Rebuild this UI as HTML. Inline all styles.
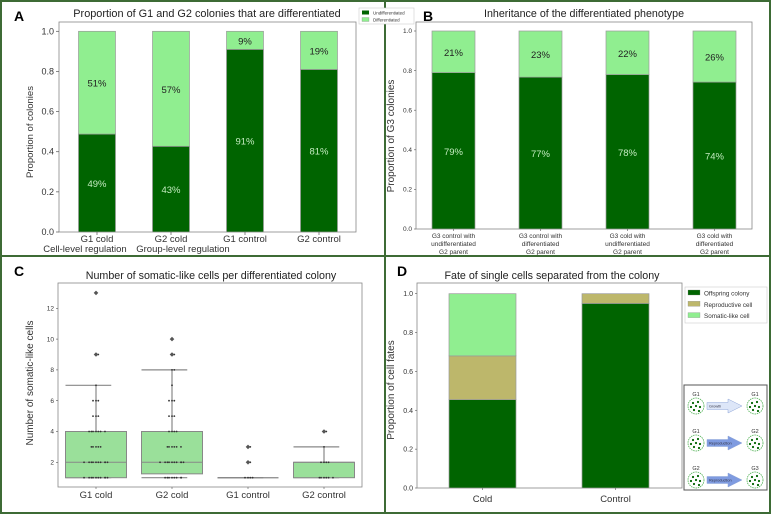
<!DOCTYPE html>
<html><head><meta charset="utf-8"><style>
html,body{margin:0;padding:0;background:#fff}
svg{display:block;font-family:"Liberation Sans",Arial,sans-serif}
</style></head><body>
<svg id="fig" width="771" height="514" viewBox="0 0 771 514" xmlns="http://www.w3.org/2000/svg">
<rect x="0" y="0" width="771" height="514" fill="#fff"/>
<g id="gA"></g>
<g id="gB"></g>
<g id="gC"></g>
<g id="gD"></g>
<g id="frame">
<rect x="1" y="1" width="769" height="512" fill="none" stroke="#3d6b35" stroke-width="2"/>
<line x1="385" y1="0" x2="385" y2="514" stroke="#3d6b35" stroke-width="2"/>
<line x1="0" y1="256" x2="771" y2="256" stroke="#3d6b35" stroke-width="2"/>
</g>
<g id="legA">
<rect x="359" y="8" width="55" height="16" fill="#fff" stroke="#ccc" stroke-width="0.6"/>
<rect x="362" y="10.5" width="7" height="4" fill="#006400"/>
<text x="373" y="14.5" font-size="4.5" fill="#333">Undifferentiated</text>
<rect x="362" y="17.5" width="7" height="4" fill="#90ee90" stroke="#888" stroke-width="0.3"/>
<text x="373" y="21.5" font-size="4.5" fill="#333">Differentiated</text>
</g>
</svg>
<script>
const NS="http://www.w3.org/2000/svg";
function mk(parent,tag,attrs,text){const e=document.createElementNS(NS,tag);for(const k in attrs)e.setAttribute(k,attrs[k]);if(text!==undefined)e.textContent=text;parent.appendChild(e);return e;}

// ---- Panel A data ----
const catsA=["G1 cold","G2 cold","G1 control","G2 control"];
const subA=["Cell-level regulation","Group-level regulation","",""];
const undiffA=[0.488,0.427,0.91,0.81];
const ticksA=[0,0.2,0.4,0.6,0.8,1.0];
// ---- Panel B data ----
const catsB=[["G3 control with","undifferentiated","G2 parent"],["G3 control with","differentiated","G2 parent"],["G3 cold with","undifferentiated","G2 parent"],["G3 cold with","differentiated","G2 parent"]];
const undiffB=[0.79,0.767,0.78,0.742];
const ticksB=[0,0.2,0.4,0.6,0.8,1.0];
// ---- Panel C data ----
const catsC=["G1 cold","G2 cold","G1 control","G2 control"];
const q1C=[1,1.25,1,1];
const medC=[2,2,1,2];
const q3C=[4,4,1,2];
const whiskLoC=[1,1,1,1];
const whiskHiC=[7,8,1,3];
const fliersC=[[9,13],[9,10],[2,3],[4]];
const pointsC=[
 [1,1,1,1,1,1,1,1,1,1,2,2,2,2,2,2,2,2,2,2,3,3,3,3,3,4,4,4,4,4,4,4,5,5,5,6,6,6,7,9,9,13],
 [1,1,1,1,1,1,1,1,2,2,2,2,2,2,2,2,2,2,3,3,3,3,3,3,4,4,4,4,5,5,5,6,6,6,7,8,8,9,9,10],
 [1,1,1,1,2,2,3,3],
 [1,1,1,1,1,1,2,2,2,2,3,4,4]
];
const ticksC=[2,4,6,8,10,12];
// ---- Panel D data ----
const catsD=["Cold","Control"];
const offspringD=[0.455,0.95];
const reproD=[0.225,0.05];
const somaticD=[0.32,0];
const ticksD=[0,0.2,0.4,0.6,0.8,1.0];

const LIGHT="#90ee90",DARK="#006400",EDGE="#9a9a9a";

// ===== Panel A =====
(function(){
 const g=document.getElementById("gA");
 const L=59,R=356,T=22,B=232,Y1=31.3;
 const y=v=>B-v*(B-Y1);
 const xc=i=>97+74*i, w=37;
 mk(g,"text",{x:14,y:21,"font-size":14,"font-weight":"bold",},"A");
 mk(g,"text",{x:207,y:17,"font-size":10.9,"text-anchor":"middle",fill:"#222",},"Proportion of G1 and G2 colonies that are differentiated");
 mk(g,"rect",{x:L,y:T,width:R-L,height:B-T,fill:"none",stroke:"#888","stroke-width":0.8,});
 ticksA.forEach(t=>{
  const tk=mk(g,"line",{x1:L-3,x2:L,y1:y(t),y2:y(t),stroke:"#555","stroke-width":0.7});
  
  
  const lb=mk(g,"text",{x:L-5,y:y(t)+3,"font-size":9,"text-anchor":"end",fill:"#333"},t.toFixed(1));
  
  
 });
 const yl=mk(g,"text",{x:0,y:0,"font-size":9.5,"text-anchor":"middle",fill:"#333",transform:"translate(33,132) rotate(-90)"},"Proportion of colonies");
 
 
 catsA.forEach((c,i)=>{
  const u=undiffA[i],d=1-u,x=xc(i)-w/2;
  const b1=mk(g,"rect",{x:x,y:y(u),width:w,height:y(0)-y(u),fill:DARK,stroke:EDGE,"stroke-width":0.7});
  
  
  const b2=mk(g,"rect",{x:x,y:y(1),width:w,height:y(u)-y(1),fill:LIGHT,stroke:EDGE,"stroke-width":0.7});
  
  
  const t1=mk(g,"text",{x:xc(i),y:y(u/2)+4,"font-size":9.5,"text-anchor":"middle",fill:"#c4ecc0"},Math.round(u*100)+"%");
  
  
  const t2=mk(g,"text",{x:xc(i),y:y(u+d/2)+4,"font-size":9.5,"text-anchor":"middle",fill:"#222"},Math.round(d*100)+"%");
  
  
  mk(g,"line",{x1:xc(i),x2:xc(i),y1:B,y2:B+3,stroke:"#555","stroke-width":0.7});
  const xl=mk(g,"text",{x:xc(i),y:242,"font-size":9.5,"text-anchor":"middle",fill:"#333"},c);
  
  
  if(subA[i]){
   const xs=mk(g,"text",{x:xc(i)+(i==0?-12:12),y:252,"font-size":9.5,"text-anchor":"middle",fill:"#333"},subA[i]);
   
   
  }
 });
})();

// ===== Panel B =====
(function(){
 const g=document.getElementById("gB");
 const L=416,R=752,T=22,B=229,Y1=31;
 const y=v=>B-v*(B-Y1);
 const xc=i=>453.5+87*i, w=43;
 mk(g,"text",{x:423,y:21,"font-size":14,"font-weight":"bold",},"B");
 mk(g,"text",{x:584,y:17,"font-size":10.7,"text-anchor":"middle",fill:"#222",},"Inheritance of the differentiated phenotype");
 mk(g,"rect",{x:L,y:T,width:R-L,height:B-T,fill:"none",stroke:"#888","stroke-width":0.8,});
 ticksB.forEach(t=>{
  mk(g,"line",{x1:L-2,x2:L,y1:y(t),y2:y(t),stroke:"#555","stroke-width":0.6});
  const lb=mk(g,"text",{x:L-4,y:y(t)+2.2,"font-size":6.5,"text-anchor":"end",fill:"#333"},t.toFixed(1));
  
  
 });
 const yl=mk(g,"text",{x:0,y:0,"font-size":10,"text-anchor":"middle",fill:"#333",transform:"translate(394,136) rotate(-90)"},"Proportion of G3 colonies");
 
 
 catsB.forEach((c,i)=>{
  const u=undiffB[i],d=1-u,x=xc(i)-w/2;
  const b1=mk(g,"rect",{x:x,y:y(u),width:w,height:y(0)-y(u),fill:DARK,stroke:EDGE,"stroke-width":0.7});
  
  
  const b2=mk(g,"rect",{x:x,y:y(1),width:w,height:y(u)-y(1),fill:LIGHT,stroke:EDGE,"stroke-width":0.7});
  
  
  const t1=mk(g,"text",{x:xc(i),y:y(u/2)+4,"font-size":9.5,"text-anchor":"middle",fill:"#c4ecc0"},Math.round(u*100)+"%");
  
  
  const t2=mk(g,"text",{x:xc(i),y:y(u+d/2)+4,"font-size":9.5,"text-anchor":"middle",fill:"#222"},Math.round(d*100)+"%");
  
  
  mk(g,"line",{x1:xc(i),x2:xc(i),y1:B,y2:B+2,stroke:"#555","stroke-width":0.6});
  c.forEach((ln,k)=>{
   const xl=mk(g,"text",{x:xc(i),y:238+k*8,"font-size":6.5,"text-anchor":"middle",fill:"#333"},ln);
   
   
  });
 });
})();

// ===== Panel C =====
(function(){
 const g=document.getElementById("gC");
 const L=58,R=362,T=283,B=487;
 const y=v=>462.3-(v-2)*15.4;
 const xc=i=>96+76*i, w=61;
 mk(g,"text",{x:14,y:276,"font-size":14,"font-weight":"bold",},"C");
 mk(g,"text",{x:211,y:279,"font-size":10.7,"text-anchor":"middle",fill:"#222",},"Number of somatic-like cells per differentiated colony");
 mk(g,"rect",{x:L,y:T,width:R-L,height:B-T,fill:"none",stroke:"#888","stroke-width":0.8,});
 ticksC.forEach(t=>{
  mk(g,"line",{x1:L-2,x2:L,y1:y(t),y2:y(t),stroke:"#555","stroke-width":0.6});
  const lb=mk(g,"text",{x:L-4,y:y(t)+2.2,"font-size":6.5,"text-anchor":"end",fill:"#333"},String(t));
  
  
 });
 const yl=mk(g,"text",{x:0,y:0,"font-size":10,"text-anchor":"middle",fill:"#333",transform:"translate(33,383) rotate(-90)"},"Number of somatic-like cells");
 
 
 catsC.forEach((c,i)=>{
  const cx=xc(i),x0=cx-w/2;
  const wl=mk(g,"line",{x1:cx,x2:cx,y1:y(q3C[i]),y2:y(whiskHiC[i]),stroke:"#888","stroke-width":1.2});
  
  
  const cap=mk(g,"line",{x1:x0,x2:cx+w*0.25,y1:y(whiskHiC[i]),y2:y(whiskHiC[i]),stroke:"#888","stroke-width":1.2});
  
  
  const cap2=mk(g,"line",{x1:x0,x2:cx+w*0.25,y1:y(whiskLoC[i]),y2:y(whiskLoC[i]),stroke:"#888","stroke-width":1.2});
  
  
  if(q3C[i]>q1C[i]){
   const bx=mk(g,"rect",{x:x0,y:y(q3C[i]),width:w,height:y(q1C[i])-y(q3C[i]),fill:"#9ae09a",stroke:"#888","stroke-width":1});
   
   
  } else {
   const bl=mk(g,"line",{x1:x0,x2:x0+w,y1:y(q1C[i]),y2:y(q1C[i]),stroke:"#888","stroke-width":1});
   
   
  }
  const md=mk(g,"line",{x1:x0,x2:x0+w,y1:y(medC[i]),y2:y(medC[i]),stroke:"#888","stroke-width":1});
  
  
  const cnt={};
  pointsC[i].forEach(v=>{
   cnt[v]=(cnt[v]||0)+1;const k=cnt[v]-1;
   const off=((k%2)?1:-1)*Math.ceil(k/2)*2.3*(k%3==2?1.3:1);
   const p=mk(g,"circle",{cx:cx+Math.max(-12,Math.min(12,off)),cy:y(v),r:0.9,fill:"#333"});
   
   
  });
  fliersC[i].forEach(v=>{
   const f=mk(g,"path",{d:`M${cx} ${y(v)-2.3}L${cx+2.3} ${y(v)}L${cx} ${y(v)+2.3}L${cx-2.3} ${y(v)}Z`,fill:"#555"});
   
   
  });
  mk(g,"line",{x1:cx,x2:cx,y1:B,y2:B+2,stroke:"#555","stroke-width":0.6});
  const xl=mk(g,"text",{x:cx,y:498,"font-size":9.5,"text-anchor":"middle",fill:"#333"},c);
  
  
 });
})();

// ===== Panel D =====
(function(){
 const g=document.getElementById("gD");
 const L=417,R=682,T=283,B=488,Y1=293.7;
 const y=v=>B-v*(B-Y1);
 const xc=i=>482.5+133*i, w=67;
 mk(g,"text",{x:397,y:276,"font-size":14,"font-weight":"bold",},"D");
 mk(g,"text",{x:552,y:279,"font-size":10.7,"text-anchor":"middle",fill:"#222",},"Fate of single cells separated from the colony");
 mk(g,"rect",{x:L,y:T,width:R-L,height:B-T,fill:"none",stroke:"#888","stroke-width":0.8,});
 ticksD.forEach(t=>{
  mk(g,"line",{x1:L-2,x2:L,y1:y(t),y2:y(t),stroke:"#555","stroke-width":0.6});
  const lb=mk(g,"text",{x:L-4,y:y(t)+2.5,"font-size":7,"text-anchor":"end",fill:"#333"},t.toFixed(1));
  
  
 });
 const yl=mk(g,"text",{x:0,y:0,"font-size":10,"text-anchor":"middle",fill:"#333",transform:"translate(394,390) rotate(-90)"},"Proportion of cell fates");
 
 
 catsD.forEach((c,i)=>{
  const x0=xc(i)-w/2;
  const o=offspringD[i],r=reproD[i],s=somaticD[i];
  const b1=mk(g,"rect",{x:x0,y:y(o),width:w,height:y(0)-y(o),fill:DARK,stroke:EDGE,"stroke-width":0.7});
  
  
  const b2=mk(g,"rect",{x:x0,y:y(o+r),width:w,height:y(o)-y(o+r),fill:"#bdb76b",stroke:EDGE,"stroke-width":0.7});
  
  
  if(s>0){
   const b3=mk(g,"rect",{x:x0,y:y(o+r+s),width:w,height:y(o+r)-y(o+r+s),fill:LIGHT,stroke:EDGE,"stroke-width":0.7});
   
   
  }
  mk(g,"line",{x1:xc(i),x2:xc(i),y1:B,y2:B+2,stroke:"#555","stroke-width":0.6});
  const xl=mk(g,"text",{x:xc(i),y:502,"font-size":9.5,"text-anchor":"middle",fill:"#333"},c);
  
  
 });
 const lg=mk(g,"g",{});
 mk(lg,"rect",{x:685,y:287,width:82,height:36,fill:"#fff",stroke:"#ccc","stroke-width":0.6});
 const leg=[["Offspring colony",DARK],["Reproductive cell","#bdb76b"],["Somatic-like cell",LIGHT]];
 leg.forEach((e,k)=>{
  mk(lg,"rect",{x:688,y:290+k*11.3,width:12,height:5,fill:e[1],stroke:"#888","stroke-width":0.3});
  const t=mk(lg,"text",{x:704,y:295.5+k*11.3,"font-size":6.3,fill:"#333"},e[0]);
  
  
 });
 const dg=mk(g,"g",{});
 mk(dg,"rect",{x:684,y:385,width:83,height:105,fill:"#fff",stroke:"#555","stroke-width":1});
 const rows=[["G1","G1","Growth","#dde6f8"],["G1","G2","Reproduction","#7f9be0"],["G2","G3","Reproduction","#7f9be0"]];
 const dots=[[-3,-3],[2,-4],[-5,1],[0,0],[4,1],[-2,4],[3,5]];
 rows.forEach((r,k)=>{
  const cy=406+k*37;
  [[696,r[0]],[755,r[1]]].forEach(([cx,lab])=>{
   mk(dg,"circle",{cx:cx,cy:cy,r:8,fill:"#fff",stroke:"#4caf50","stroke-width":0.8,"stroke-dasharray":"1.5 0.8"});
   dots.forEach(d=>mk(dg,"circle",{cx:cx+d[0],cy:cy+d[1],r:1.1,fill:"#006400"}));
   const t=mk(dg,"text",{x:cx,y:cy-10,"font-size":5.5,"text-anchor":"middle",fill:"#333"},lab);
   
   
  });
  mk(dg,"path",{d:`M707 ${cy-3.5}H728V${cy-7}L742 ${cy}L728 ${cy+7}V${cy+3.5}H707Z`,fill:r[3],stroke:"#8fa6d8","stroke-width":0.5});
  const t=mk(dg,"text",{x:709,y:cy+1.5,"font-size":3.8,fill:"#334"},r[2]);
  
  
 });
})();
</script>
</body></html>
